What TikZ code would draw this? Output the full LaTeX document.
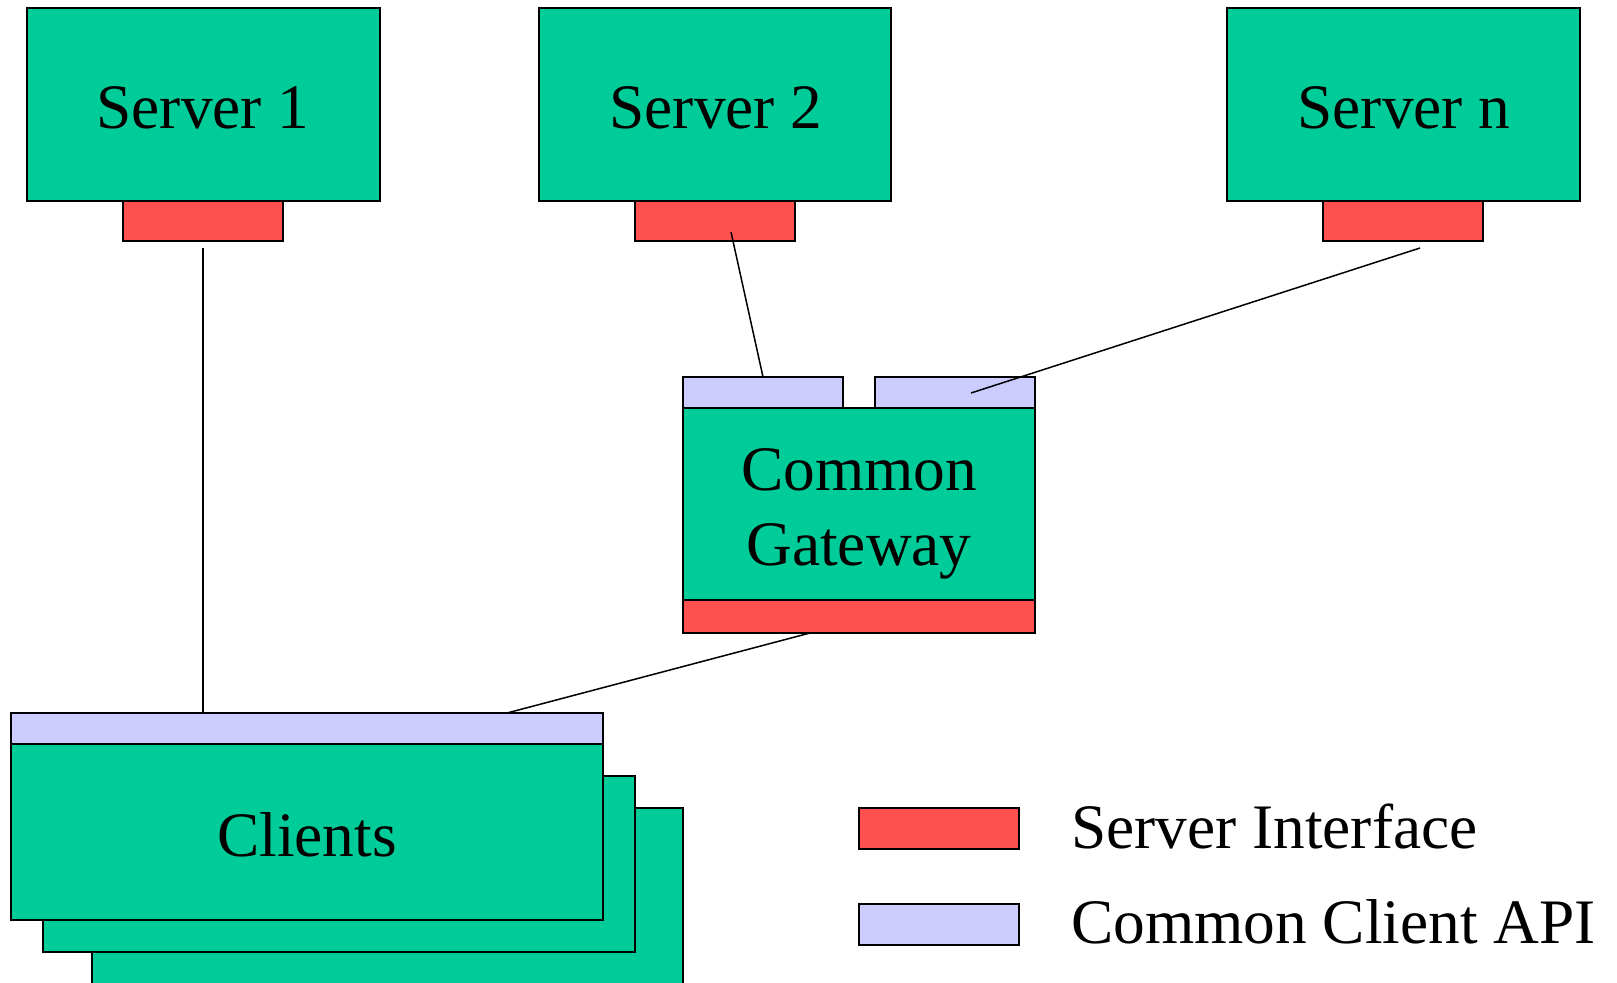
\documentclass[tikz,border=0pt]{standalone}
\usepackage{fontspec}
\setmainfont{Liberation Serif}
\definecolor{compgreen}{RGB}{0,204,153}
\definecolor{ifred}{RGB}{255,80,80}
\definecolor{apiblue}{RGB}{204,204,255}
\begin{document}
\begin{tikzpicture}[x=1bp,y=-1bp,
  box/.style={draw=black, line width=2bp, inner sep=0pt, outer sep=0pt, anchor=north west},
  comp/.style={box, fill=compgreen},
  sif/.style={box, fill=ifred, minimum width=160bp, minimum height=40bp},
  capi/.style={box, fill=apiblue},
  lbl/.style={font=\fontsize{63.6}{75}\selectfont, inner sep=0pt, anchor=base},
  link/.style={line width=1.5bp}]
\useasboundingbox (0,0) rectangle (1617,982);

% servers with their interfaces
\node[comp, minimum width=353bp, minimum height=193bp] (s1) at (27,8) {};
\node[sif] (s1if) at (123,201) {};
\node[lbl] (s1t) at (203,128) {Server 1};

\node[comp, minimum width=352bp, minimum height=193bp] (s2) at (539,8) {};
\node[sif] (s2if) at (635,201) {};
\node[lbl] (s2t) at (716,128) {Server 2};

\node[comp, minimum width=353bp, minimum height=193bp] (sn) at (1227,8) {};
\node[sif] (snif) at (1323,201) {};
\node[lbl] (snt) at (1404,128) {Server n};

% common gateway
\node[capi, minimum width=160bp, minimum height=31bp] (gwa) at (683,377) {};
\node[capi, minimum width=160bp, minimum height=31bp] (gwb) at (875,377) {};
\node[comp, minimum width=352bp, minimum height=192bp] (gw) at (683,408) {};
\node[box, fill=ifred, minimum width=352bp, minimum height=33bp] (gwif) at (683,600) {};
\node[lbl] (gwt1) at (859,490) {Common};
\node[lbl] (gwt2) at (859,565) {Gateway};

% stacked clients
\node[comp, minimum width=591bp, minimum height=190bp] (cl3) at (92,808) {};
\node[comp, minimum width=592bp, minimum height=176bp] (cl2) at (43,776) {};
\node[comp, minimum width=592bp, minimum height=176bp] (cl1) at (11,744) {};
\node[capi, minimum width=592bp, minimum height=31bp] (clapi) at (11,713) {};
\node[lbl] (clt) at (307,856) {Clients};

% legend
\node[sif, minimum height=41bp] (lgif) at (859,808) {};
\node[capi, minimum width=160bp, minimum height=41bp] (lgapi) at (859,904) {};
\node[lbl, anchor=base west] (lgift) at (1071,848) {Server Interface};
\node[lbl, anchor=base west] (lgapit) at (1071,943) {Common Client API};

% connections
\coordinate (c1) at (203,248);
\coordinate (c2) at (731,232);
\coordinate (c3a) at (1420,248);
\coordinate (c3b) at (971,393);
\coordinate (c4a) at (810,633);
\coordinate (c4b) at (507,713);
\draw[link] (c1) -- (clapi.north -| c1);
\draw[link] (c2) -- (gwa.north);
\draw[link] (c3a) -- (c3b);
\draw[link] (c4a) -- (c4b);
\end{tikzpicture}
\end{document}
